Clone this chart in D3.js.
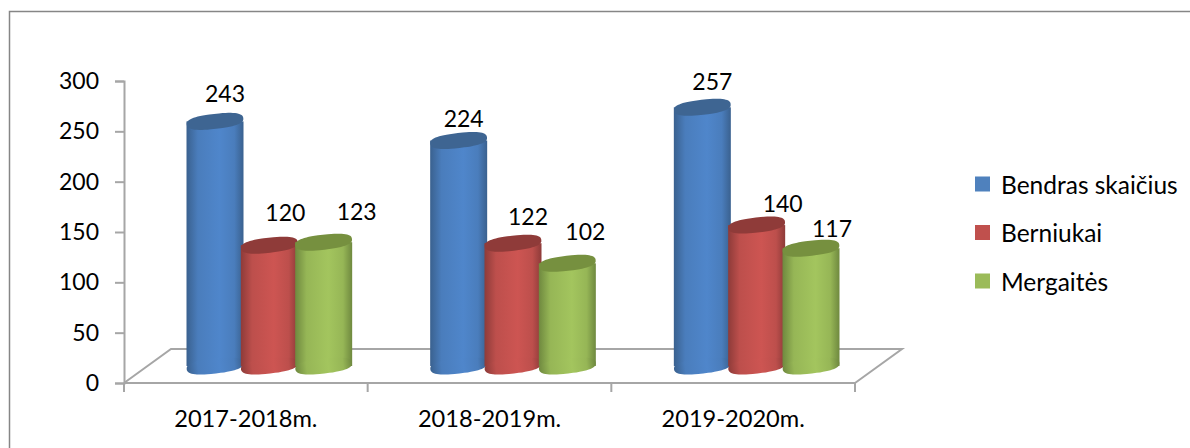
<!DOCTYPE html>
<html>
<head>
<meta charset="utf-8">
<script src="https://cdn.jsdelivr.net/npm/d3@7.9.0/dist/d3.min.js"></script>
<style>
  html, body { margin: 0; background: #fff; }
  text { font-family: Lato, "Open Sans", sans-serif; fill: #000; }
</style>
</head>
<body>
<div id="chart"></div>
<script>
const categories = ['2017-2018m.', '2018-2019m.', '2019-2020m.'];
const seriesNames = ['Bendras skaičius', 'Berniukai', 'Mergaitės'];
const bendras = [243, 224, 257];
const berniukai = [120, 122, 140];
const mergaites = [123, 102, 117];
const yTicks = [0, 50, 100, 150, 200, 250, 300];

const seriesValues = [bendras, berniukai, mergaites];

// label placement in the original was done by hand, so nudge from the bar top
const labelNudge = [
  [[10, -28], [16, -33], [33, -31]],
  [[5, -23], [15, -27], [18, -32]],
  [[10, -26], [26, -22], [21, -20]],
];

const colors = [
  { edge: '#3a618f', mid: '#4f86cb', top: '#3e6592', key: '#4f81bd' },
  { edge: '#8e3b39', mid: '#cd5552', top: '#8f3b39', key: '#c0504d' },
  { edge: '#6f893f', mid: '#a3c55e', top: '#76903f', key: '#9bbb59' },
];

const width = 1190;
const height = 448;
const plot = { left: 124, right: 855, top: 81, bottom: 383 };
const depth = { x: 47, y: 34 };

const svg = d3.select('#chart').append('svg')
  .attr('width', width)
  .attr('height', height)
  .style('display', 'block');

const xScale = d3.scaleBand().domain(categories).range([plot.left, plot.right]);
const yScale = d3.scaleLinear().domain([0, 300]).range([plot.bottom, plot.top]);
const barScale = d3.scaleBand().domain(seriesNames)
  .range([-81.5, 81.5]);

const defs = svg.append('defs');
colors.forEach((c, i) => {
  const grad = defs.append('linearGradient').attr('id', 'cyl' + i);
  grad.append('stop').attr('offset', '0%').attr('stop-color', c.edge);
  grad.append('stop').attr('offset', '20%').attr('stop-color', d3.interpolateRgb(c.edge, c.mid)(0.75));
  grad.append('stop').attr('offset', '58%').attr('stop-color', c.mid);
  grad.append('stop').attr('offset', '84%').attr('stop-color', d3.interpolateRgb(c.edge, c.mid)(0.75));
  grad.append('stop').attr('offset', '100%').attr('stop-color', c.edge);
});

// outer frame: left and top edges only, the top runs off the page
svg.append('path')
  .attr('d', `M9.5,${height} V11.5 H${width}`)
  .attr('fill', 'none')
  .attr('stroke', '#868686')
  .attr('stroke-width', 1.5);

// floor of the 3d plot
const axisColor = '#a6a6a6';
svg.append('path')
  .attr('d', `M${plot.left},${plot.bottom} L${plot.left + depth.x},${plot.bottom - depth.y} H${plot.right + depth.x} L${plot.right},${plot.bottom}`)
  .attr('fill', 'none')
  .attr('stroke', axisColor)
  .attr('stroke-width', 2);

const yAxis = d3.axisLeft(yScale).tickValues(yTicks).tickSize(9).tickPadding(16);
const yG = svg.append('g').attr('transform', `translate(${plot.left},0)`).call(yAxis);

const xAxis = d3.axisBottom(xScale).tickSize(0).tickPadding(27);
const xG = svg.append('g').attr('transform', `translate(0,${plot.bottom})`).call(xAxis);

// tick marks sit on the band edges, not centres
xG.selectAll('.edge')
  .data(xScale.domain().map(d => xScale(d)).concat(plot.right))
  .join('line')
  .attr('class', 'edge')
  .attr('x1', d => d).attr('x2', d => d)
  .attr('y1', 0).attr('y2', 9)
  .attr('stroke', axisColor).attr('stroke-width', 2);

yG.selectAll('text').style('font-size', '23px');
xG.selectAll('text').style('font-size', '23.6px');
[yG, xG].forEach(g => {
  g.selectAll('.domain, .tick line').attr('stroke', axisColor).attr('stroke-width', 2);
  g.selectAll('text').attr('fill', '#000');
});
xG.select('.domain').attr('d', `M${plot.left},0H${plot.right}`);

// cylinders
const tilt = -6.5;
const rx = 28.5;
const ry = 7.5;
const baseY = v => yScale(v) - depth.y / 2;
const barX = (c, s) => xScale(c) + xScale.bandwidth() / 2 + depth.x / 2 + barScale(s) + barScale.bandwidth() / 2;

// the caps in the original are a bit squarer than a true ellipse
const capLine = d3.line().curve(d3.curveLinearClosed);
const capPoints = d3.range(0, 360, 6).map(deg => {
  const a = deg * Math.PI / 180;
  const pow = t => Math.sign(t) * Math.pow(Math.abs(t), 0.78);
  return [rx * pow(Math.cos(a)), ry * pow(Math.sin(a))];
});
const capPath = capLine(capPoints);

const groups = svg.append('g').selectAll('g')
  .data(categories)
  .join('g');

groups.each(function (cat, ci) {
  const g = d3.select(this);
  seriesNames.forEach((name, si) => {
    const v = seriesValues[si][ci];
    const cx = barX(cat, name);
    g.append('rect')
      .attr('x', cx - rx).attr('width', rx * 2)
      .attr('y', baseY(v)).attr('height', baseY(0) - baseY(v))
      .attr('fill', `url(#cyl${si})`);
    g.append('path')
      .attr('d', capPath)
      .attr('transform', `translate(${cx},${baseY(0)}) rotate(${tilt})`)
      .attr('fill', `url(#cyl${si})`);
    g.append('path')
      .attr('d', capPath)
      .attr('transform', `translate(${cx},${baseY(v)}) rotate(${tilt})`)
      .attr('fill', colors[si].top);
  });
});

// value labels, after all bars
categories.forEach((cat, ci) => {
  seriesNames.forEach((name, si) => {
    const v = seriesValues[si][ci];
    const [dx, dy] = labelNudge[ci][si];
    svg.append('text')
      .attr('x', barX(cat, name) + dx)
      .attr('y', baseY(v) + dy)
      .attr('text-anchor', 'middle')
      .attr('dominant-baseline', 'central')
      .style('font-size', '23px')
      .text(v);
  });
});

// legend
const legendY = d3.scalePoint().domain(seriesNames).range([184, 281]);
const legend = svg.append('g').selectAll('g')
  .data(seriesNames)
  .join('g')
  .attr('transform', d => `translate(975,${legendY(d)})`);
legend.append('rect')
  .attr('y', -7.5).attr('width', 15).attr('height', 15)
  .attr('fill', (d, i) => colors[i].key);
legend.append('text')
  .attr('x', 26)
  .attr('dominant-baseline', 'central')
  .style('font-size', '24.5px')
  .text(d => d);
</script>
</body>
</html>
